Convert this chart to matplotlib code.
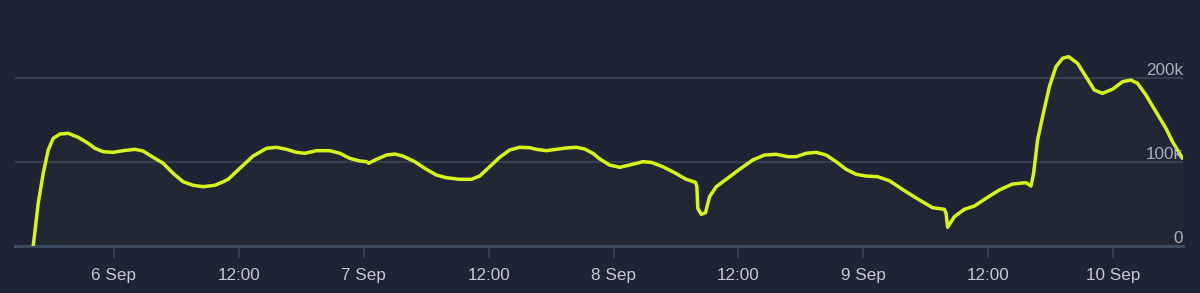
import matplotlib.pyplot as plt

# -----------------------------
# DATA (hours from 6 Sep 00:00, players in thousands)
# -----------------------------

hours = [
    -7.75, -7.27, -6.79, -6.31, -5.83, -5.18, -4.39, -3.43, -2.47, -1.82,
    -1.03, -0.07, 0.89, 2.02, 2.81, 3.77, 4.73, 5.69, 6.65, 7.61,
    8.57, 9.70, 10.49, 10.97, 12.10, 13.37, 14.66, 15.62, 16.58, 17.54,
    18.34, 19.46, 20.74, 21.70, 22.66, 23.62, 24.26, 24.48, 25.22, 26.18,
    26.98, 27.77, 28.90, 30.02, 30.98, 31.94, 33.22, 34.34, 35.14, 36.10,
    37.06, 38.02, 38.98, 39.94, 40.58, 41.54, 42.50, 43.46, 44.42, 45.22,
    46.01, 46.66, 47.62, 48.58, 49.54, 50.81, 51.62, 52.73, 53.86, 54.98,
    55.87, 56.00, 56.09, 56.42, 56.83, 57.22, 57.86, 58.82, 60.10, 61.37,
    62.50, 63.62, 64.73, 65.54, 66.50, 67.46, 68.42, 69.38, 70.34, 71.30,
    72.26, 73.37, 74.50, 76.10, 77.38, 78.65, 79.78, 79.94, 80.09, 80.74,
    81.70, 82.66, 83.78, 85.06, 86.33, 87.62, 88.10, 88.35, 88.73, 89.21,
    89.86, 90.50, 91.13, 91.71, 92.57, 93.38, 94.18, 94.97, 95.93, 96.89,
    97.70, 98.33, 99.14, 100.10, 101.06, 101.69, 102.65,
]

players_k = [
    0.0, 50.8, 86.5, 114.3, 128.2, 133.3, 134.2, 129.4, 122.3, 116.3,
    112.3, 111.5, 113.5, 115.1, 113.1, 105.6, 98.5, 86.5, 76.5, 72.3,
    70.6, 72.3, 76.5, 79.4, 92.5, 107.1, 116.3, 117.5, 115.1, 111.5,
    110.4, 113.5, 113.5, 110.4, 104.4, 101.2, 100.4, 98.5, 103.2, 108.3,
    109.5, 107.1, 100.4, 91.3, 84.5, 81.3, 79.4, 79.4, 83.3, 94.4,
    105.6, 114.3, 117.5, 117.0, 115.1, 113.5, 115.1, 116.7, 117.5, 115.5,
    110.4, 103.8, 96.4, 93.7, 96.4, 100.4, 99.6, 94.4, 87.3, 79.4,
    75.8, 70.6, 44.9, 37.7, 39.6, 58.7, 70.6, 79.4, 91.3, 102.4,
    108.3, 109.2, 106.3, 106.3, 110.4, 111.5, 108.3, 100.4, 91.3, 85.4,
    83.3, 82.5, 77.7, 64.6, 54.8, 45.6, 43.7, 38.9, 22.3, 34.9,
    43.7, 47.6, 56.8, 66.7, 73.8, 75.4, 71.4, 86.5, 126.2, 153.9,
    189.6, 213.5, 223.5, 225.4, 217.5, 201.6, 185.7, 181.8, 186.6, 195.6,
    197.6, 193.7, 179.8, 159.9, 140.1, 124.2, 104.4,
]

tick_hours = [0, 12, 24, 36, 48, 60, 72, 84, 96]
tick_labels = ["6 Sep", "12:00", "7 Sep", "12:00", "8 Sep", "12:00", "9 Sep", "12:00", "10 Sep"]

grid_values = [0, 100, 200]
grid_labels = ["0", "100k", "200k"]

# -----------------------------
# STYLE
# -----------------------------

bg = "#1e2433"
grid_color = "#394456"
line_color = "#d7f51c"
text_color = "#aab1bc"

plt.rcParams["font.family"] = ["Liberation Sans", "DejaVu Sans"]

fig = plt.figure(figsize=(12, 2.93), dpi=100, facecolor=bg)
ax = fig.add_axes([15 / 1200, 1 - 246 / 293, 1168 / 1200, 246 / 293])
ax.set_facecolor(bg)

x_min, x_max = -9.5, 102.7
ax.set_xlim(x_min, x_max)
ax.set_ylim(0, 292.9)

# gridlines
for v in grid_values[1:]:
    ax.axhline(v, color=grid_color, lw=1.2, zorder=1)
ax.axhline(0, color="#3d4a5e", lw=2.2, zorder=1, clip_on=False)

# line + very faint fill
ax.fill_between(hours, players_k, 0, color=line_color, alpha=0.015, lw=0, zorder=2)
ax.plot(hours, players_k, color=line_color, lw=2.5, solid_joinstyle="round",
        solid_capstyle="round", zorder=3)

# y labels sitting on the gridlines, right aligned
for v, lab in zip(grid_values, grid_labels):
    ax.annotate(lab, xy=(x_max, v), xytext=(0, 2), textcoords="offset points",
                ha="right", va="baseline", color=text_color, fontsize=12.3, zorder=4)

ax.set_yticks([])
ax.set_xticks(tick_hours)
ax.set_xticklabels(tick_labels)
ax.tick_params(axis="x", length=8.5, width=1.2, color="#3a4557",
               labelcolor="#c4c9d1", labelsize=12.3, pad=7)

for side in ["top", "right", "left", "bottom"]:
    ax.spines[side].set_visible(False)

plt.savefig("out.png", dpi=100, facecolor=bg)
